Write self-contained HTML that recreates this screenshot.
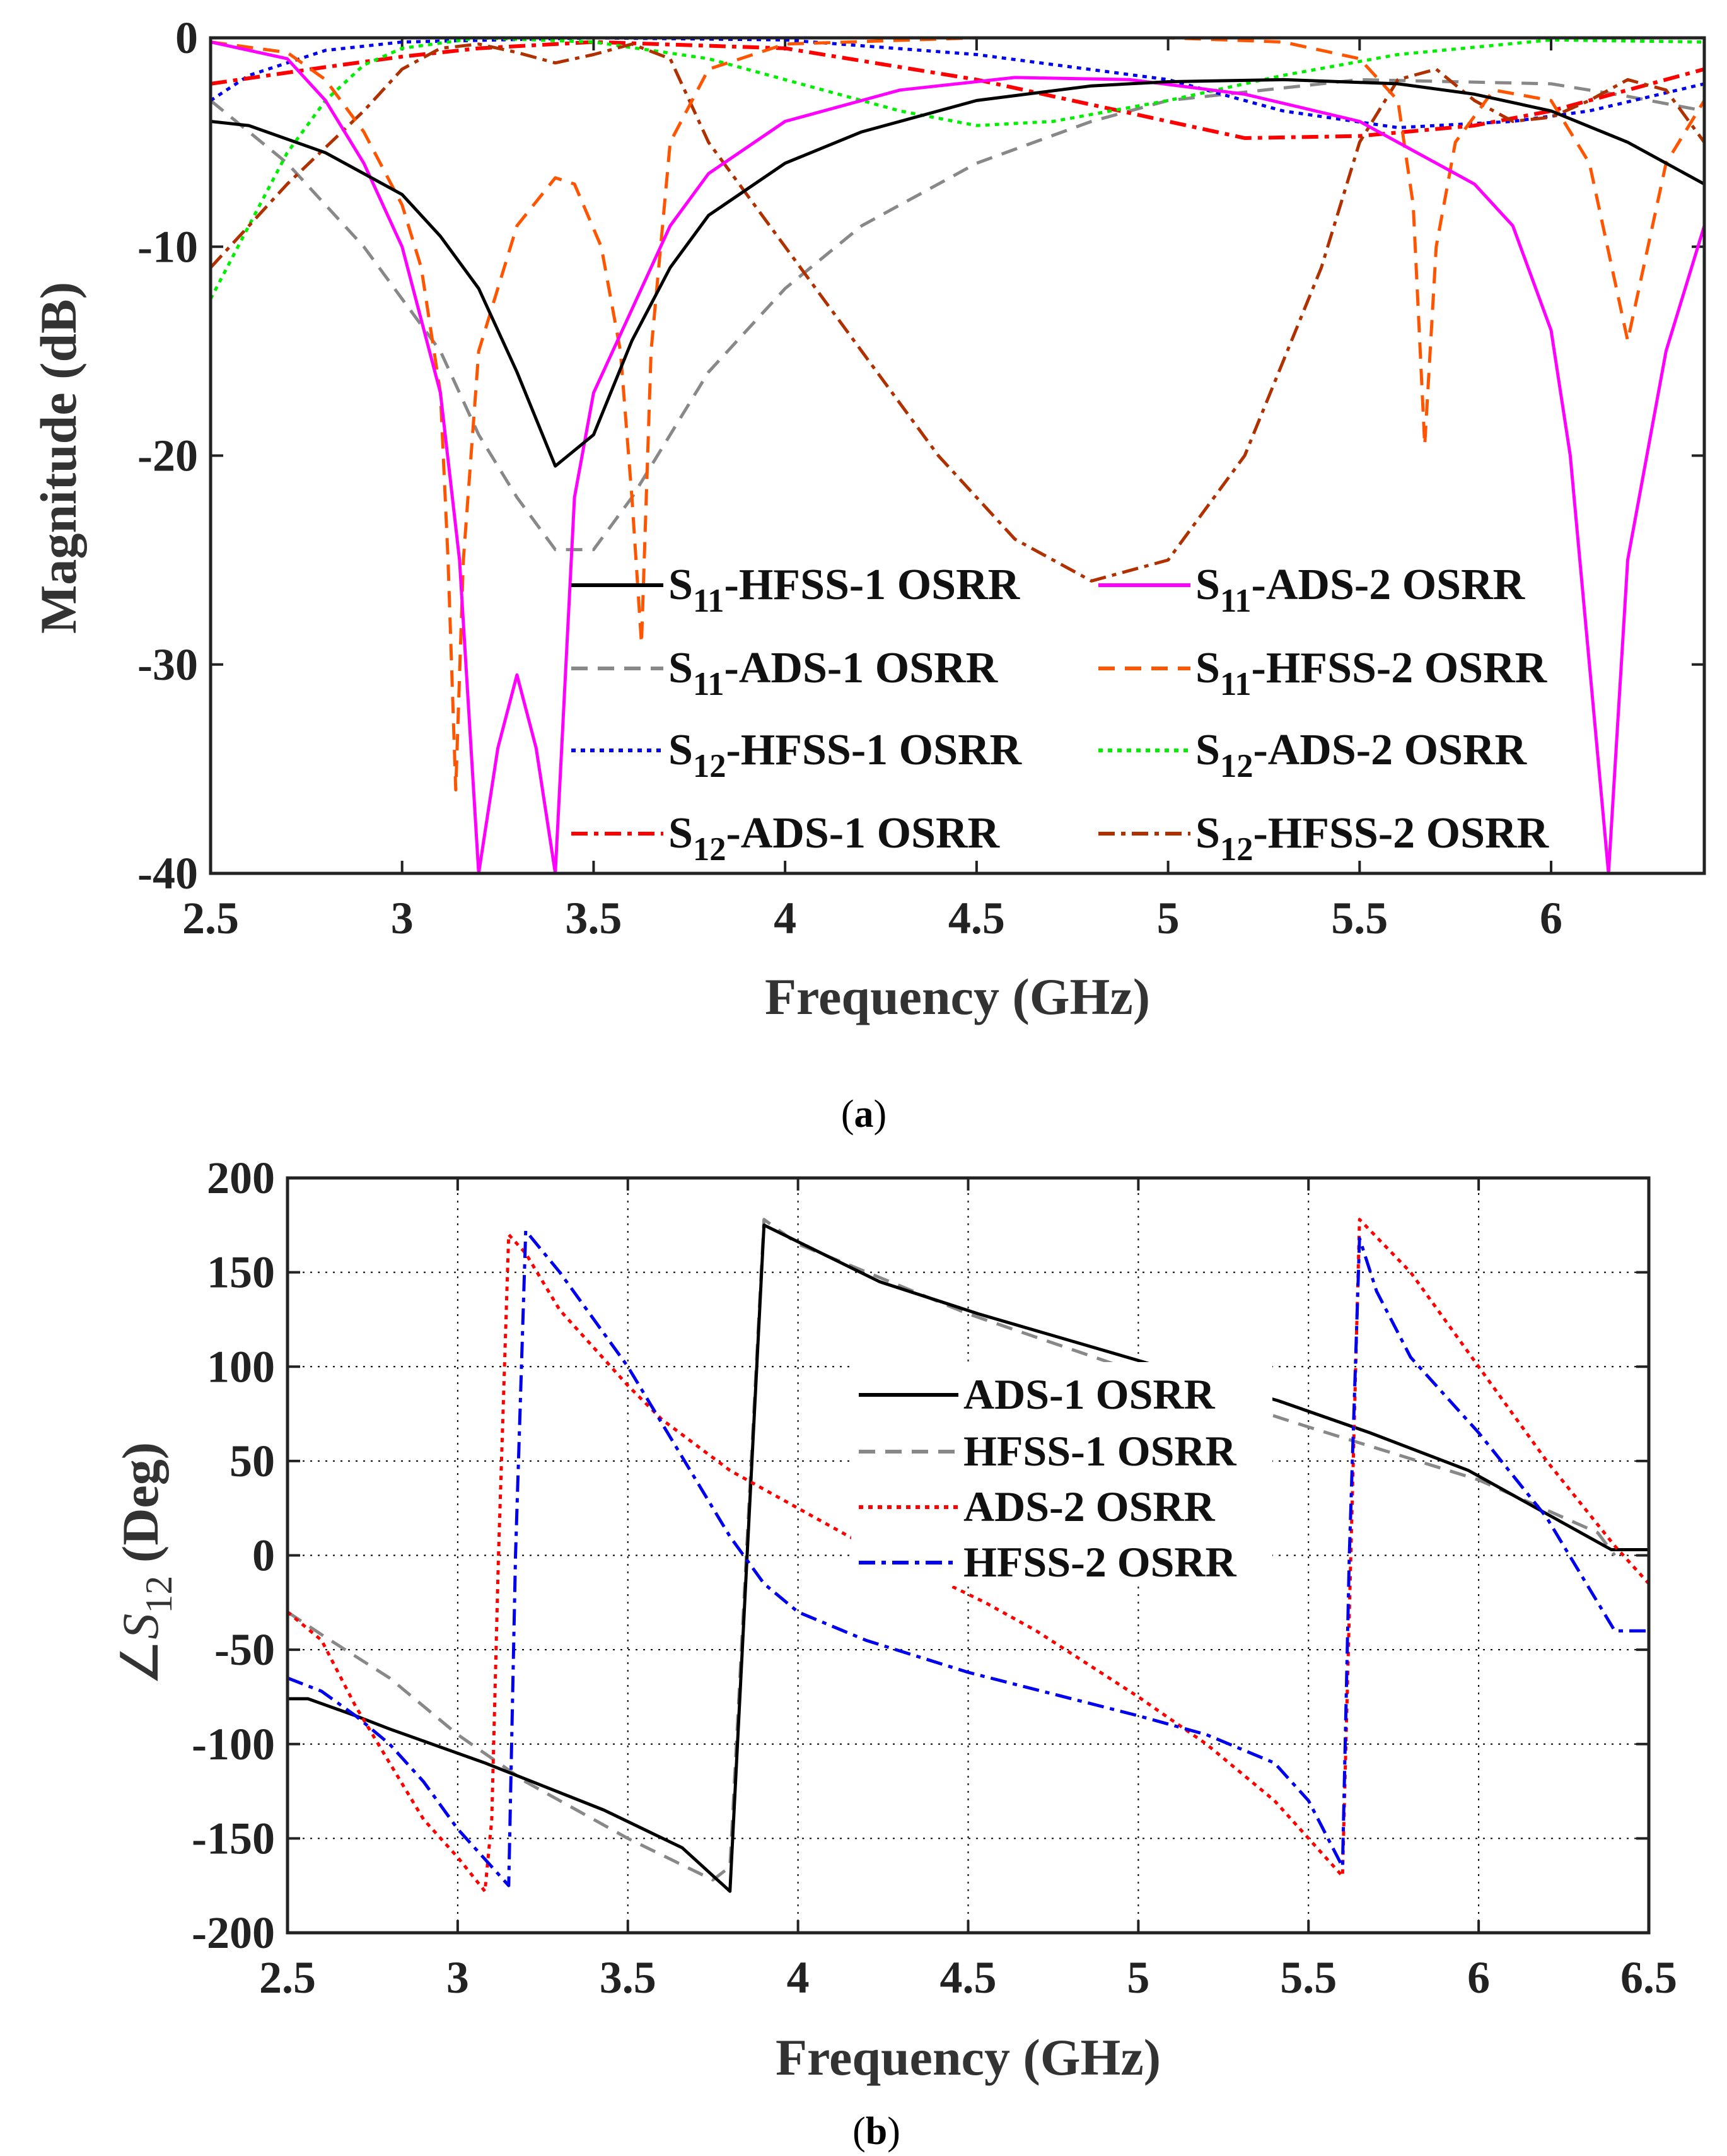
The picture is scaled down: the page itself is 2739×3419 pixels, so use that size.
<!DOCTYPE html>
<html><head><meta charset="utf-8"><style>
html,body{margin:0;padding:0;background:#fff;}
svg{display:block;font-family:"Liberation Serif",serif;font-weight:bold;}
</style></head><body>
<svg id="fig" width="2739" height="3419" viewBox="0 0 2739 3419"></svg>
<script>
// ---------- Chart (a) data ----------
const aXTicks=[2.5,3,3.5,4,4.5,5,5.5,6];
const aYTicks=[0,-10,-20,-30,-40];
const s11Hfss1=[[2.5,-4],[2.6,-4.2],[2.8,-5.5],[3.0,-7.5],[3.1,-9.5],[3.2,-12],[3.3,-16],[3.4,-20.5],[3.5,-19],[3.6,-14.5],[3.7,-11],[3.8,-8.5],[4.0,-6],[4.2,-4.5],[4.5,-3],[4.8,-2.3],[5.0,-2.1],[5.3,-2],[5.6,-2.2],[5.8,-2.7],[6.0,-3.5],[6.2,-5],[6.4,-7]];
const s11Ads1=[[2.5,-3],[2.7,-6],[2.9,-10],[3.1,-15],[3.2,-19],[3.3,-22],[3.4,-24.5],[3.5,-24.5],[3.6,-22],[3.7,-19],[3.8,-16],[4.0,-12],[4.2,-9],[4.5,-6],[4.8,-4],[5.0,-3],[5.5,-2],[6.0,-2.2],[6.2,-2.8],[6.4,-3.5]];
const s12Hfss1=[[2.5,-3],[2.6,-1.8],[2.8,-0.6],[3.0,-0.2],[3.5,0],[4,-0.1],[4.5,-0.8],[5,-2],[5.3,-3.5],[5.6,-4.3],[5.9,-4],[6.1,-3.5],[6.4,-2.2]];
const s12Ads1=[[2.5,-2.2],[2.8,-1.4],[3.0,-0.9],[3.2,-0.5],[3.5,-0.2],[4.0,-0.5],[4.5,-2],[5.0,-4],[5.2,-4.8],[5.5,-4.7],[5.8,-4.2],[6.0,-3.5],[6.2,-2.5],[6.4,-1.5]];
const s11Ads2=[[2.5,-0.2],[2.7,-1],[2.8,-3],[2.9,-6],[3.0,-10],[3.1,-17],[3.15,-25],[3.2,-40],[3.25,-34],[3.3,-30.5],[3.35,-34],[3.4,-40],[3.45,-22],[3.5,-17],[3.6,-13],[3.7,-9],[3.8,-6.5],[4.0,-4],[4.3,-2.5],[4.6,-1.9],[4.9,-2],[5.2,-2.7],[5.5,-4],[5.8,-7],[5.9,-9],[6.0,-14],[6.05,-20],[6.1,-30],[6.15,-40],[6.2,-25],[6.3,-15],[6.4,-9]];
const s11Hfss2=[[2.5,-0.2],[2.7,-0.7],[2.8,-2],[2.9,-4.5],[3.0,-8],[3.05,-11],[3.1,-17],[3.12,-25],[3.14,-36],[3.16,-25],[3.2,-15],[3.3,-9],[3.4,-6.7],[3.45,-7],[3.52,-10],[3.57,-15],[3.6,-22],[3.625,-29],[3.65,-15],[3.7,-5],[3.8,-1.5],[4,-0.3],[4.5,0],[5,0],[5.3,-0.2],[5.5,-1],[5.6,-3],[5.64,-8],[5.67,-19.5],[5.7,-10],[5.75,-5],[5.85,-2.5],[6.0,-3],[6.1,-6],[6.2,-14.5],[6.3,-6],[6.4,-3]];
const s12Ads2=[[2.5,-12.5],[2.6,-9],[2.7,-5.5],[2.8,-3],[2.9,-1.3],[3.0,-0.5],[3.2,0],[3.5,-0.2],[3.8,-1],[4.0,-2],[4.3,-3.5],[4.5,-4.2],[4.7,-4],[5.0,-3],[5.3,-1.8],[5.6,-0.8],[6.0,-0.1],[6.4,-0.2]];
const s12Hfss2=[[2.5,-11],[2.7,-7],[2.9,-3.5],[3.0,-1.5],[3.1,-0.5],[3.2,-0.3],[3.3,-0.7],[3.4,-1.2],[3.5,-0.8],[3.6,-0.3],[3.7,-1],[3.8,-5],[4.0,-10],[4.2,-15],[4.4,-20],[4.6,-24],[4.8,-26],[5.0,-25],[5.2,-20],[5.4,-11],[5.5,-5],[5.6,-2],[5.7,-1.5],[5.8,-3],[5.9,-4],[6.0,-3.8],[6.1,-3],[6.2,-2],[6.3,-2.5],[6.4,-5]];
// ---------- Chart (b) data ----------
const bXTicks=[2.5,3,3.5,4,4.5,5,5.5,6,6.5];
const bYTicks=[200,150,100,50,0,-50,-100,-150,-200];
const phAds1=[[2.5,-76],[2.56,-76],[2.7,-85],[2.8,-92],[3.08,-110],[3.43,-135],[3.66,-155],[3.8,-178],[3.9,175],[4.24,145],[4.53,128],[5.1,98],[5.41,82],[5.68,65],[5.97,45],[6.39,3],[6.5,3]];
const phHfss1=[[2.5,-30],[2.6,-42],[2.8,-65],[3.0,-95],[3.2,-120],[3.5,-150],[3.75,-172],[3.8,-165],[3.9,178],[4.0,165],[4.5,128],[5.0,97],[5.5,68],[6.0,40],[6.35,12],[6.4,0]];
const phAds2=[[2.5,-30],[2.6,-45],[2.7,-80],[2.8,-110],[2.9,-140],[3.0,-160],[3.08,-178],[3.1,-140],[3.12,0],[3.15,170],[3.2,160],[3.3,130],[3.4,110],[3.5,90],[3.6,72],[3.8,45],[4.0,25],[4.15,10],[4.55,-25],[4.7,-40],[5.0,-75],[5.2,-100],[5.4,-130],[5.6,-170],[5.65,178],[5.8,150],[6.0,100],[6.2,50],[6.4,5],[6.5,-15]];
const phHfss2=[[2.5,-65],[2.6,-72],[2.7,-85],[2.8,-100],[2.9,-120],[3.0,-145],[3.1,-165],[3.15,-175],[3.17,0],[3.2,172],[3.3,150],[3.4,125],[3.5,100],[3.6,70],[3.7,40],[3.8,10],[3.9,-15],[4.0,-30],[4.2,-45],[4.5,-62],[5.0,-85],[5.2,-95],[5.4,-110],[5.5,-130],[5.6,-165],[5.62,0],[5.65,168],[5.7,140],[5.8,105],[6.0,65],[6.2,20],[6.3,-10],[6.4,-40],[6.5,-40]];

const NS='http://www.w3.org/2000/svg';
const svg=document.getElementById('fig');
function mk(tag,attrs,parent){const e=document.createElementNS(NS,tag);for(const k in attrs)e.setAttribute(k,attrs[k]);(parent||svg).appendChild(e);return e;}

// axes (a)
const A={l:334,r:2703,t:60,b:1385,x0:2.5,x1:6.4,y0:-40,y1:0};
const B={l:456,r:2615,t:1868,b:3065,x0:2.5,x1:6.5,y0:-200,y1:200};
function sx(C,v){return C.l+(v-C.x0)/(C.x1-C.x0)*(C.r-C.l);}
function sy(C,v){return C.b-(v-C.y0)/(C.y1-C.y0)*(C.b-C.t);}

function series(C,data,color,dash,w,name){
  const d=data.map((p,i)=>(i?'L':'M')+sx(C,p[0]).toFixed(1)+' '+sy(C,p[1]).toFixed(1)).join(' ');
  const p=mk('path',{d:d,fill:'none',stroke:color,'stroke-width':w,'stroke-dasharray':dash,'stroke-linejoin':'round'});
  
  
}
function axes(C,xt,yt,grid,pre){
  const g=mk('g',{});
  
  
  if(grid){
    xt.forEach(v=>{if(v>C.x0&&v<C.x1)mk('line',{x1:sx(C,v),x2:sx(C,v),y1:C.t,y2:C.b,stroke:'#000','stroke-width':2,'stroke-dasharray':'3,9'},g);});
    yt.forEach(v=>{if(v>C.y0&&v<C.y1)mk('line',{x1:C.l,x2:C.r,y1:sy(C,v),y2:sy(C,v),stroke:'#000','stroke-width':2,'stroke-dasharray':'3,9'},g);});
  }
  xt.forEach(v=>{const x=sx(C,v);
    mk('line',{x1:x,x2:x,y1:C.b,y2:C.b-20,stroke:'#222','stroke-width':4},g);
    mk('line',{x1:x,x2:x,y1:C.t,y2:C.t+20,stroke:'#222','stroke-width':4},g);
    const t=mk('text',{x:x,y:C.b+95,'font-size':72,'text-anchor':'middle',fill:'#222'},g);t.textContent=v;
    });
  yt.forEach(v=>{const y=sy(C,v);
    mk('line',{x1:C.l,x2:C.l+20,y1:y,y2:y,stroke:'#222','stroke-width':4},g);
    mk('line',{x1:C.r,x2:C.r-20,y1:y,y2:y,stroke:'#222','stroke-width':4},g);
    const t=mk('text',{x:C.l-20,y:y+24,'font-size':72,'text-anchor':'end',fill:'#222'},g);t.textContent=v;
    });
}
function frame(C,pre){const f=mk('rect',{x:C.l,y:C.t,width:C.r-C.l,height:C.b-C.t,fill:'none',stroke:'#222','stroke-width':5});
  }

// Chart (a)
axes(A,aXTicks,aYTicks,false,'chart-a');
const DASH='26,16', DOT='7,8', DD='26,10,7,10';
series(A,s11Ads1,'#888',DASH,5,'s11-ads-1-line');
series(A,s12Hfss1,'#0000ee',DOT,5,'s12-hfss-1-line');
series(A,s12Ads1,'#ff0000',DD,6,'s12-ads-1-line');
series(A,s12Ads2,'#00ee00',DOT,5,'s12-ads-2-line');
series(A,s12Hfss2,'#b03000',DD,5,'s12-hfss-2-line');
series(A,s11Hfss2,'#ff5500',DASH,5,'s11-hfss-2-line');
series(A,s11Ads2,'#ff00ff','none',5,'s11-ads-2-line');
series(A,s11Hfss1,'#000','none',5,'s11-hfss-1-line');
frame(A,'chart-a');

function legendEntry(x1,x2,y,color,dash,label,sub,rest,name,fs){
  const g=mk('g',{});
  
  
  mk('line',{x1:x1,x2:x2,y1:y,y2:y,stroke:color,'stroke-width':6,'stroke-dasharray':dash},g);
  const t=mk('text',{x:x2+8,y:y+22,'font-size':fs,fill:'#111'},g);
  t.appendChild(document.createTextNode(label));
  if(sub){const s=mk('tspan',{'font-size':fs*0.75,dy:20},t);s.textContent=sub;
    const r=mk('tspan',{dy:-20},t);r.textContent=rest;}
  return g;
}
const aLeg=[[928,'#000','none','11','-HFSS-1 OSRR','#ff00ff','none','11','-ADS-2 OSRR'],
[1060,'#888',DASH,'11','-ADS-1 OSRR','#ff5500',DASH,'11','-HFSS-2 OSRR'],
[1190,'#0000ee',DOT,'12','-HFSS-1 OSRR','#00ee00',DOT,'12','-ADS-2 OSRR'],
[1322,'#ff0000',DD,'12','-ADS-1 OSRR','#b03000',DD,'12','-HFSS-2 OSRR']];
aLeg.forEach(r=>{
  legendEntry(906,1052,r[0],r[1],r[2],'S',r[3],r[4],'legend-entry',70);
  legendEntry(1742,1888,r[0],r[5],r[6],'S',r[7],r[8],'legend-entry',70);
});
let t=mk('text',{x:(A.l+A.r)/2,y:1608,'font-size':82,'text-anchor':'middle',fill:'#333'});t.textContent='Frequency (GHz)';

t=mk('text',{x:0,y:0,'font-size':82,'text-anchor':'middle',fill:'#333',transform:'translate(120,726) rotate(-90)'});t.textContent='Magnitude (dB)';

t=mk('text',{x:1370,y:1787,'font-size':62,'text-anchor':'middle',fill:'#000','font-weight':'normal'});
t.appendChild(document.createTextNode('('));const ta=mk('tspan',{'font-weight':'bold'},t);ta.textContent='a';t.appendChild(document.createTextNode(')'));


// Chart (b)
axes(B,bXTicks,bYTicks,true,'chart-b');
series(B,phHfss1,'#888',DASH,5,'hfss-1-phase-line');
series(B,phAds1,'#000','none',5,'ads-1-phase-line');
series(B,phAds2,'#ff0000',DOT,5,'ads-2-phase-line');
series(B,phHfss2,'#0000ee',DD,5,'hfss-2-phase-line');
const lb=mk('rect',{x:1350,y:2160,width:668,height:355,fill:'#fff'});

legendEntry(1362,1520,2212,'#000','none','ADS-1 OSRR',null,null,'legend-entry',68);
legendEntry(1362,1520,2302,'#888',DASH,'HFSS-1 OSRR',null,null,'legend-entry',68);
legendEntry(1362,1520,2390,'#ff0000',DOT,'ADS-2 OSRR',null,null,'legend-entry',68);
legendEntry(1362,1520,2478,'#0000ee',DD,'HFSS-2 OSRR',null,null,'legend-entry',68);
frame(B,'chart-b');
t=mk('text',{x:(B.l+B.r)/2,y:3290,'font-size':82,'text-anchor':'middle',fill:'#333'});t.textContent='Frequency (GHz)';

t=mk('text',{x:0,y:0,'font-size':82,'text-anchor':'middle',fill:'#333',transform:'translate(250,2480) rotate(-90)','font-weight':'normal'});
t.appendChild(document.createTextNode('\u2220'));const ts=mk('tspan',{'font-style':'italic'},t);ts.textContent='S';
const t12=mk('tspan',{'font-size':60,dy:22},t);t12.textContent='12';const tr=mk('tspan',{dy:-22,'font-weight':'bold'},t);tr.textContent=' (Deg)';

t=mk('text',{x:1390,y:3400,'font-size':62,'text-anchor':'middle',fill:'#000','font-weight':'normal'});
t.appendChild(document.createTextNode('('));const tb=mk('tspan',{'font-weight':'bold'},t);tb.textContent='b';t.appendChild(document.createTextNode(')'));

</script>
</body></html>
